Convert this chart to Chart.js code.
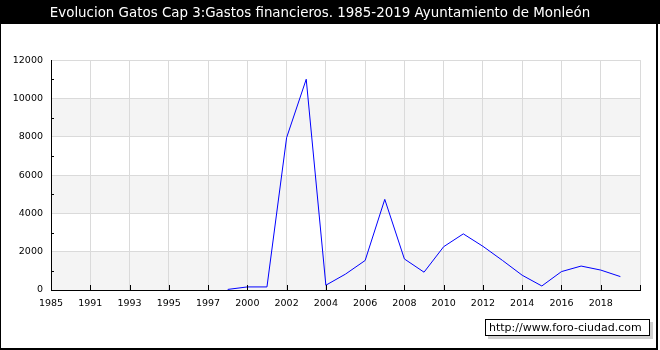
<!DOCTYPE html>
<html>
<head>
<meta charset="utf-8">
<script src="https://cdn.jsdelivr.net/npm/chart.js@4.4.0/dist/chart.umd.min.js"></script>
<style>
  body { margin: 0; background: #fff; }
  #wrap { position: relative; width: 660px; height: 350px; }
  #stamp {
    position: absolute; left: 485px; top: 319px; width: 160px; height: 15px;
    border: 1px solid #000; background: #fff; box-shadow: 3px 3px 0 #d0d0d0;
    font: 11px "DejaVu Sans", sans-serif; line-height: 15px; padding-left: 3px; color: #000;
  }
</style>
</head>
<body>
<div id="wrap">
  <canvas id="chart" width="660" height="350"></canvas>
  <div id="stamp">http://www.foro-ciudad.com</div>
</div>
<script>
// years on the x axis (one slot per entry, last slot is the empty right edge)
const years = ['1985', '1990', '1991', '1992', '1993', '1994', '1995', '1996', '1997', '1999',
    '2000', '2001', '2002', '2003', '2004', '2005', '2006', '2007', '2008', '2009',
    '2010', '2011', '2012', '2013', '2014', '2015', '2016', '2017', '2018', '2019'];

// Gastos financieros, euros (null = no data)
const gastos = [null, null, null, null, null, null, null, null, null, 30,
    160, 160, 7950, 11000, 250, 830, 1540, 4730, 1620, 930,
    2260, 2930, 2280, 1540, 770, 210, 960, 1250, 1040, 700];

const yTicks = [0, 2000, 4000, 6000, 8000, 10000, 12000];

// grey bands, black title bar, frame and the little inner ticks
const decor = {
    id: 'decor',
    beforeDraw(chart) {
        const ctx = chart.ctx;
        const area = chart.chartArea;
        const y = chart.scales.y;
        ctx.save();
        ctx.fillStyle = '#000';
        ctx.fillRect(0, 0, 660, 24);
        ctx.fillStyle = '#f4f4f4';
        for (let i = 0; i < yTicks.length - 1; i += 2) {
            const top = y.getPixelForValue(yTicks[i + 1]);
            const bottom = y.getPixelForValue(yTicks[i]);
            ctx.fillRect(area.left, top, area.right - area.left, bottom - top);
        }
        ctx.restore();
    },
    afterDraw(chart) {
        const ctx = chart.ctx;
        const area = chart.chartArea;
        const x = chart.scales.x;
        const y = chart.scales.y;
        ctx.save();
        ctx.strokeStyle = '#000';
        ctx.lineWidth = 1;
        ctx.beginPath();
        for (let i = 0; i <= years.length; i += 2) {
            const px = Math.round(x.getPixelForValue(i)) + 0.5;
            ctx.moveTo(px, area.bottom);
            ctx.lineTo(px, area.bottom - 5);
        }
        for (let v = 1000; v < 12000; v += 2000) {
            const py = Math.round(y.getPixelForValue(v)) + 0.5;
            ctx.moveTo(area.left, py);
            ctx.lineTo(area.left + 3, py);
        }
        ctx.stroke();
        ctx.fillStyle = '#000';
        ctx.fillRect(0, 0, 1, 350);
        ctx.fillRect(656, 0, 2, 350);
        ctx.fillRect(0, 348, 658, 2);
        ctx.restore();
    }
};

new Chart(document.getElementById('chart'), {
    type: 'line',
    data: {
        datasets: [{
            data: gastos.map((v, i) => ({ x: i, y: v })),
            borderColor: '#0000ff',
            borderWidth: 1,
            pointRadius: 0,
            tension: 0,
            spanGaps: false
        }]
    },
    options: {
        responsive: false,
        animation: false,
        layout: { padding: { left: 0, right: 20, top: 0, bottom: 0 } },
        plugins: {
            legend: { display: false },
            tooltip: { enabled: false },
            title: {
                display: true,
                text: 'Evolucion Gatos Cap 3:Gastos financieros. 1985-2019 Ayuntamiento de Monleón',
                color: '#fff',
                font: { family: 'DejaVu Sans', size: 13.4, weight: 'normal' },
                padding: { top: 5, bottom: 39 }
            }
        },
        scales: {
            x: {
                type: 'linear',
                min: 0,
                max: years.length,
                afterFit: s => { s.height = 60; },
                border: { color: '#000' },
                grid: { color: '#dadada', drawTicks: false },
                ticks: {
                    stepSize: 2,
                    autoSkip: false,
                    maxRotation: 0,
                    padding: 8,
                    color: '#000',
                    font: { family: 'DejaVu Sans', size: 9.5 },
                    callback: v => years[v] || ''
                }
            },
            y: {
                min: 0,
                max: 12000,
                afterFit: s => { s.width = 51; },
                border: { color: '#000' },
                grid: {
                    drawTicks: false,
                    color: c => (c.tick && c.tick.value % 2000 === 0) ? '#dadada' : 'rgba(0,0,0,0)'
                },
                ticks: {
                    stepSize: 1000,
                    autoSkip: false,
                    padding: 8,
                    color: '#000',
                    font: { family: 'DejaVu Sans', size: 9.5 },
                    callback: v => yTicks.includes(v) ? String(v) : ''
                }
            }
        }
    },
    plugins: [decor]
});
</script>
</body>
</html>
